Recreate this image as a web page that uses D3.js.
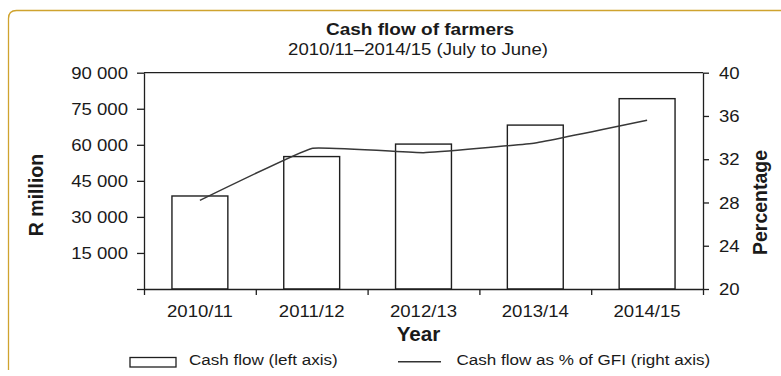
<!DOCTYPE html>
<html>
<head>
<meta charset="utf-8">
<script src="https://cdn.jsdelivr.net/npm/d3@7"></script>
<style>
  html, body { margin: 0; padding: 0; background: #fff; }
  svg { display: block; }
  text { font-family: "Liberation Sans", Arial, Helvetica, sans-serif; fill: #1a1a1a; }
</style>
</head>
<body>
<svg id="chart" width="781" height="376"></svg>
<script>
// Marketing years shown on the category axis
const years = ["2010/11", "2011/12", "2012/13", "2013/14", "2014/15"];
// Cash flow of farmers, R million (left axis)
const cashFlow = [38700, 55100, 60300, 68200, 79200];
// Cash flow as a percentage of gross farming income (right axis)
const cashFlowPctGFI = [28.2, 33.0, 32.6, 33.5, 35.6];
// Axis tick values
const leftTicks = [0, 15000, 30000, 45000, 60000, 75000, 90000];
const rightTicks = [20, 24, 28, 32, 36, 40];

const titleText = "Cash flow of farmers";
const subtitleText = "2010/11\u20132014/15 (July to June)";
const legendLabels = ["Cash flow (left axis)", "Cash flow as % of GFI (right axis)"];

const svg = d3.select("#chart");
const ink = "#1f1f1f";

const plot = { left: 144, right: 703, top: 72.7, bottom: 289 };

// Frame around the figure
svg.append("path")
  .attr("d", "M8.5,370 L8.5,18.5 Q8.5,10.5 16.5,10.5 L781,10.5")
  .attr("fill", "none")
  .attr("stroke", "#cfa32e")
  .attr("stroke-width", 1.3);

// Scales
const x = d3.scaleBand().domain(years).range([plot.left, plot.right]).padding(0);
const xEdge = d3.scaleLinear().domain([0, years.length]).range([plot.left, plot.right]);
const yLeft = d3.scaleLinear().domain([0, 90000]).range([plot.bottom, plot.top]);
const yRight = d3.scaleLinear().domain([20, 40]).range([plot.bottom, plot.top]);

const fmt = v => d3.format(",")(v).replace(/,/g, " ");
const labelSize = 16.3, labelStretch = 1.14;

// Bars
svg.append("g").selectAll("rect")
  .data(years)
  .join("rect")
  .attr("x", (d) => x(d) + x.bandwidth() * 0.25)
  .attr("y", (d, i) => yLeft(cashFlow[i]))
  .attr("width", x.bandwidth() * 0.5)
  .attr("height", (d, i) => plot.bottom - yLeft(cashFlow[i]))
  .attr("fill", "#fff")
  .attr("stroke", ink)
  .attr("stroke-width", 1.4);

// Percentage line, lightly smoothed
const line = d3.line()
  .x((d, i) => x(years[i]) + x.bandwidth() / 2)
  .y(d => yRight(d))
  .curve(d3.curveCardinal.tension(0.75));
svg.append("path")
  .datum(cashFlowPctGFI)
  .attr("d", line)
  .attr("fill", "none")
  .attr("stroke", "#383838")
  .attr("stroke-width", 1.5);

// Top border of the plot area
svg.append("line")
  .attr("x1", plot.left).attr("x2", plot.right)
  .attr("y1", plot.top).attr("y2", plot.top)
  .attr("stroke", ink).attr("stroke-width", 1.3);

function styleAxis(g) {
  g.select(".domain").attr("stroke", ink).attr("stroke-width", 1.3);
  g.selectAll(".tick line").attr("stroke", ink).attr("stroke-width", 1.3);
  g.selectAll(".tick text")
    .attr("font-size", labelSize)
    .attr("font-family", null)
    .attr("fill", ink);
}

// Left axis
const gLeft = svg.append("g")
  .attr("transform", `translate(${plot.left},0)`)
  .call(d3.axisLeft(yLeft).tickValues(leftTicks).tickSize(7).tickSizeOuter(0)
    .tickFormat(d => d === 0 ? "" : fmt(d)));
styleAxis(gLeft);
gLeft.selectAll(".tick text")
  .attr("x", 0).attr("dy", "0.35em")
  .attr("transform", `translate(-16,0) scale(${labelStretch},1)`);

// Right axis
const gRight = svg.append("g")
  .attr("transform", `translate(${plot.right},0)`)
  .call(d3.axisRight(yRight).tickValues(rightTicks).tickSize(6).tickSizeOuter(0));
styleAxis(gRight);
gRight.selectAll(".tick text")
  .attr("x", 0).attr("dy", "0.35em")
  .attr("transform", `translate(16,0) scale(${labelStretch},1)`);

// Bottom axis: boundary ticks
const gBottom = svg.append("g")
  .attr("transform", `translate(0,${plot.bottom})`)
  .call(d3.axisBottom(xEdge).tickValues(d3.range(years.length + 1)).tickSize(6)
    .tickSizeOuter(0).tickFormat(""));
styleAxis(gBottom);

// Bottom axis: category labels
const gCats = svg.append("g")
  .attr("transform", `translate(0,${plot.bottom})`)
  .call(d3.axisBottom(x).tickSize(0));
gCats.select(".domain").remove();
styleAxis(gCats);
gCats.selectAll(".tick text")
  .attr("y", 0).attr("dy", 0)
  .attr("transform", `translate(0,28) scale(${labelStretch},1)`);

// Titles
svg.append("text")
  .attr("transform", "translate(420,35) scale(1.12,1)")
  .attr("text-anchor", "middle")
  .attr("font-size", 17).attr("font-weight", "bold")
  .text(titleText);
svg.append("text")
  .attr("transform", `translate(418,55) scale(${labelStretch},1)`)
  .attr("text-anchor", "middle")
  .attr("font-size", labelSize)
  .text(subtitleText);

// Axis titles
svg.append("text")
  .attr("transform", "translate(418.5,340.5) scale(1.06,1)")
  .attr("text-anchor", "middle")
  .attr("font-size", 19.5).attr("font-weight", "bold")
  .text("Year");
svg.append("text")
  .attr("transform", "translate(43,195) rotate(-90)")
  .attr("text-anchor", "middle")
  .attr("font-size", 19.5).attr("font-weight", "bold")
  .text("R million");
svg.append("text")
  .attr("transform", "translate(767,202.5) rotate(-90)")
  .attr("text-anchor", "middle")
  .attr("font-size", 19.5).attr("font-weight", "bold")
  .text("Percentage");

// Legend
const legend = svg.append("g");
legend.append("rect")
  .attr("x", 130).attr("y", 357.5).attr("width", 46).attr("height", 9.5)
  .attr("fill", "#fff").attr("stroke", ink).attr("stroke-width", 1.3);
legend.append("text")
  .attr("transform", "translate(189,364.5) scale(1.1,1)")
  .attr("font-size", 15.5)
  .text(legendLabels[0]);
legend.append("line")
  .attr("x1", 398).attr("x2", 441).attr("y1", 361.7).attr("y2", 361.7)
  .attr("stroke", "#333").attr("stroke-width", 1.4);
legend.append("text")
  .attr("transform", "translate(456.5,364.5) scale(1.1,1)")
  .attr("font-size", 15.5)
  .text(legendLabels[1]);
</script>
</body>
</html>
